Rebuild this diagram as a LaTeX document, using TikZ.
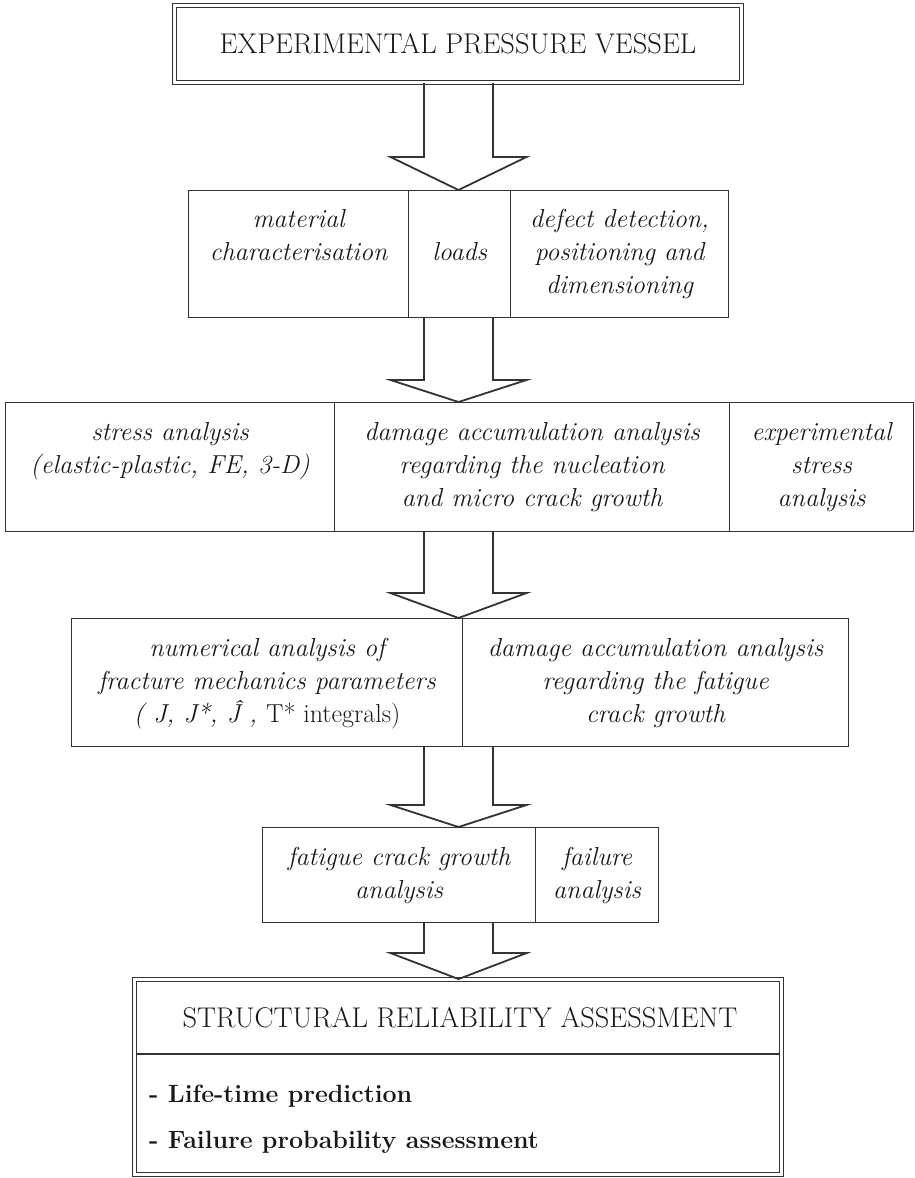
\documentclass[tikz,border=0pt]{standalone}
\usepackage{fontspec}
\usetikzlibrary{calc}
\definecolor{ink}{gray}{0.2}
\newcommand\blockarrow[3]{%
  \draw[barrow] ($(ax |- #1.south)+(-34.5,0)$) -- ($(ax |- #2.north)+(-34.5,-#3)$)
     -- ($(ax |- #2.north)+(-68,-#3)$) -- (ax |- #2.north)
     -- ($(ax |- #2.north)+(68,-#3)$) -- ($(ax |- #2.north)+(34.5,-#3)$)
     -- ($(ax |- #1.south)+(34.5,0)$);}
\begin{document}
\begin{tikzpicture}[x=1pt,y=-1pt,
  cell/.style={draw=ink, line width=1.2pt, anchor=north west, inner sep=0pt, align=center,
     font=\fontsize{26}{33}\selectfont\itshape\addfontfeature{FakeBold=0.8}, text=black!90},
  dbox/.style={draw=ink, double=white, double distance=3pt, line width=1.1pt, inner sep=0pt},
  barrow/.style={draw=ink, line width=1.8pt, line join=miter},
  ttl/.style={font=\fontsize{28.5}{34}\selectfont\addfontfeature{FakeBold=1}, inner sep=0pt, text=black!90},
  blt/.style={font=\fontsize{25}{30}\selectfont\bfseries, inner sep=0pt, anchor=base west, text=black!90}]
\useasboundingbox (0,0) rectangle (915,1178);
\coordinate (ax) at (458.5,0);
% top box
\node[dbox, ttl, minimum width=566.8pt, minimum height=76.8pt] (top) at (458,44) {EXPERIMENTAL PRESSURE VESSEL};
% row 2
\node[cell, minimum width=220pt, minimum height=127pt] (mat) at (188,190) {\strut material\\\strut characterisation\\\strut};
\node[cell, minimum width=102pt, minimum height=127pt] (lds) at (408,190) {\strut loads};
\node[cell, minimum width=218pt, minimum height=127pt] (dfc) at (510,190) {\strut defect detection,\\\strut positioning and\\\strut dimensioning};
% row 3
\node[cell, minimum width=329pt, minimum height=129pt] (str) at (5,402) {\strut stress analysis\\\strut (elastic-plastic, FE, 3-D)\\\strut};
\node[cell, minimum width=395pt, minimum height=129pt] (dmg) at (334,402) {\strut damage accumulation analysis\\\strut regarding the nucleation\\\strut and micro crack growth};
\node[cell, minimum width=184pt, minimum height=129pt] (exs) at (729,402) {\strut experimental\\\strut stress\\\strut analysis};
% row 4
\node[cell, minimum width=391pt, minimum height=128pt] (num) at (71,618) {\strut numerical analysis of\\\strut fracture mechanics parameters\\\strut ( J, J*, Ĵ , \textup{T* integrals)}};
\node[cell, minimum width=386pt, minimum height=128pt] (dmf) at (462,618) {\strut damage accumulation analysis\\\strut regarding the fatigue\\\strut crack growth};
% row 5
\node[cell, minimum width=273pt, minimum height=95pt] (fcg) at (262,827) {\strut fatigue crack growth\\\strut analysis};
\node[cell, minimum width=123pt, minimum height=95pt] (fla) at (535,827) {\strut failure\\\strut analysis};
% bottom box
\node[dbox, minimum width=646.8pt, minimum height=194.8pt] (bot) at (458,1077) {};
\coordinate (dv) at (0,1054);
\draw[ink, line width=1.2pt] ($(bot.west |- dv)+(2.6,0)$) -- ($(bot.east |- dv)+(-2.6,0)$);
\node[ttl, anchor=base] (sra) at (460,1027) {STRUCTURAL RELIABILITY ASSESSMENT};
\node[blt] (ltp) at (149,1102) {- Life-time prediction};
\node[blt] (fpa) at (149,1148) {- Failure probability assessment};
% arrows
\blockarrow{top}{lds}{33}
\blockarrow{lds}{dmg}{22}
\blockarrow{dmg}{num}{25}
\blockarrow{num}{fcg}{22}
\blockarrow{fcg}{bot}{26}
\end{tikzpicture}
\end{document}
